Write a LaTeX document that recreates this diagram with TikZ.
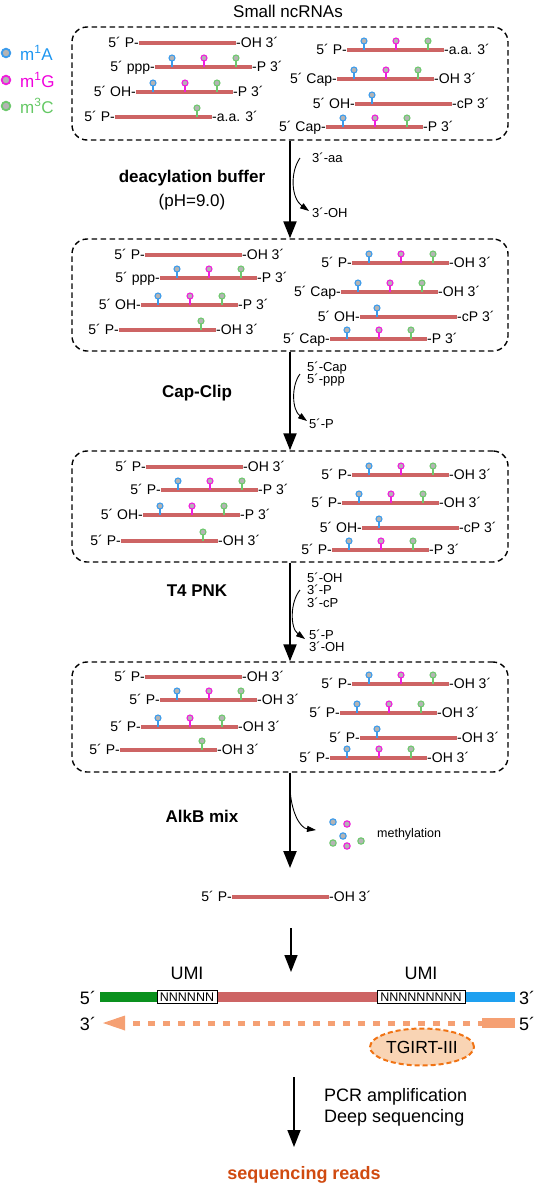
\documentclass[tikz,border=0pt]{standalone}
\usepackage{fontspec}
\setmainfont{Liberation Sans}
\usetikzlibrary{arrows.meta,shapes.geometric}
\definecolor{barc}{RGB}{205,100,100}
\definecolor{cA}{RGB}{60,155,235}
\definecolor{cG}{RGB}{240,30,220}
\definecolor{cC}{RGB}{110,200,110}
\definecolor{pinfill}{RGB}{180,180,180}
\definecolor{tA}{RGB}{30,150,240}
\definecolor{tG}{RGB}{240,0,220}
\definecolor{tC}{RGB}{100,200,100}
\definecolor{umigreen}{RGB}{10,145,30}
\definecolor{umiblue}{RGB}{30,160,240}
\definecolor{orl}{RGB}{245,160,115}
\definecolor{ellfill}{RGB}{249,212,180}
\definecolor{elldraw}{RGB}{240,115,20}
\definecolor{readc}{RGB}{208,74,16}
\newcommand\rnarow[5]{%
  \draw[rnabar] ({#1},{#2}) -- ({#1+97},{#2});
  \node[rnalbl,anchor=base east] at ({#1},{#2+4.5}) {#3};
  \node[rnalbl,anchor=base west] at ({#1+97},{#2+4.5}) {#4};
  \ifx\relax#5\relax\else
  \foreach \o/\c in {#5}{%
    \draw[\c,line width=1.1pt] ({#1+\o},{#2}) -- ({#1+\o},{#2-6});
    \draw[\c,line width=1.1pt,fill=pinfill] ({#1+\o},{#2-9}) circle[radius=3];
  }\fi
}
\begin{document}
\begin{tikzpicture}[x=1pt,y=-1pt,
  rnabar/.style={barc,line width=4.5pt},
  rnalbl/.style={font=\fontsize{14}{16}\selectfont,inner sep=0pt},
  sidelbl/.style={font=\fontsize{13}{15}\selectfont,inner sep=0pt,anchor=base west},
  steplbl/.style={font=\fontsize{17}{20}\selectfont\bfseries,inner sep=0pt},
  dbox/.style={draw,dashed,dash pattern=on 5.5pt off 3.5pt,line width=1.4pt,rounded corners=15pt,minimum width=436pt,inner sep=0pt},
  mainarrow/.style={line width=2.2pt,-{Triangle[length=17pt,width=13pt]}},
  thinarrow/.style={line width=1.5pt,-{Triangle[length=17pt,width=13pt]}},
  sidearrow/.style={line width=0.9pt,-{Triangle[length=9pt,width=6pt]}},
  nbox/.style={draw,fill=white,line width=0.8pt,minimum height=13pt,inner sep=0pt,font=\fontsize{12.5}{13}\selectfont},
]
\useasboundingbox (0,0) rectangle (538,1189);
% title and legend
\node[font=\fontsize{17}{20}\selectfont] (title) at (288,11) {Small ncRNAs};
\foreach \yy/\c/\t/\n [count=\i] in {53/cA/tA/m\textsuperscript{1}A,80/cG/tG/m\textsuperscript{1}G,106/cC/tC/m\textsuperscript{3}C}{
  \draw[\c,line width=1.8pt,fill=pinfill] (6,\yy) circle[radius=4.3];
  \node[font=\fontsize{17}{20}\selectfont,text=\t,anchor=west,inner sep=0pt] (leg\i) at (20,\yy) {\n};
}
% boxes
\node[dbox,minimum height=113pt] (box1) at (290,83.5) {};
\node[dbox,minimum height=112pt] (box2) at (290,295) {};
\node[dbox,minimum height=111pt] (box3) at (290,506.5) {};
\node[dbox,minimum height=110pt] (box4) at (290,717) {};
% box 1
\rnarow{139}{43}{5´ P-}{-OH 3´}{}
\rnarow{155}{67}{5´ ppp-}{-P 3´}{17/cA,49/cG,81/cC}
\rnarow{136}{92}{5´ OH-}{-P 3´}{17/cA,49/cG,81/cC}
\rnarow{115}{117}{5´ P-}{-a.a. 3´}{82/cC}
\rnarow{347}{50}{5´ P-}{-a.a. 3´}{17/cA,49/cG,81/cC}
\rnarow{337}{79}{5´ Cap-}{-OH 3´}{17/cA,49/cG,81/cC}
\rnarow{355}{104}{5´ OH-}{-cP 3´}{17/cA}
\rnarow{326}{127}{5´ Cap-}{-P 3´}{17/cA,49/cG,81/cC}
% box 2
\rnarow{145}{255}{5´ P-}{-OH 3´}{}
\rnarow{160}{278}{5´ ppp-}{-P 3´}{17/cA,49/cG,81/cC}
\rnarow{141}{305}{5´ OH-}{-P 3´}{17/cA,49/cG,81/cC}
\rnarow{119}{330}{5´ P-}{-OH 3´}{82/cC}
\rnarow{352}{263}{5´ P-}{-OH 3´}{17/cA,49/cG,81/cC}
\rnarow{341}{292}{5´ Cap-}{-OH 3´}{17/cA,49/cG,81/cC}
\rnarow{360}{317}{5´ OH-}{-cP 3´}{17/cA}
\rnarow{330}{339}{5´ Cap-}{-P 3´}{17/cA,49/cG,81/cC}
% box 3
\rnarow{146}{467}{5´ P-}{-OH 3´}{}
\rnarow{161}{490}{5´ P-}{-P 3´}{17/cA,49/cG,81/cC}
\rnarow{143}{515}{5´ OH-}{-P 3´}{17/cA,49/cG,81/cC}
\rnarow{121}{541}{5´ P-}{-OH 3´}{82/cC}
\rnarow{352}{475}{5´ P-}{-OH 3´}{17/cA,49/cG,81/cC}
\rnarow{342}{503}{5´ P-}{-OH 3´}{17/cA,49/cG,81/cC}
\rnarow{362}{528}{5´ OH-}{-cP 3´}{17/cA}
\rnarow{332}{550}{5´ P-}{-P 3´}{17/cA,49/cG,81/cC}
% box 4
\rnarow{145}{677}{5´ P-}{-OH 3´}{}
\rnarow{160}{700}{5´ P-}{-OH 3´}{17/cA,49/cG,81/cC}
\rnarow{141}{727}{5´ P-}{-OH 3´}{17/cA,49/cG,81/cC}
\rnarow{120}{750}{5´ P-}{-OH 3´}{82/cC}
\rnarow{352}{684}{5´ P-}{-OH 3´}{17/cA,49/cG,81/cC}
\rnarow{340}{713}{5´ P-}{-OH 3´}{17/cA,49/cG,81/cC}
\rnarow{360}{738}{5´ P-}{-OH 3´}{17/cA}
\rnarow{330}{758}{5´ P-}{-OH 3´}{17/cA,49/cG,81/cC}
% main arrows
\draw[mainarrow] (box1.south) -- (box2.north);
\draw[mainarrow] (box2.south) -- (box3.north);
\draw[mainarrow] (box3.south) -- (box4.north);
\coordinate (a4end) at (290,868);
\draw[mainarrow] (box4.south) -- (a4end);
% step labels
\node[steplbl] (s1) at (192,178) {deacylation buffer};
\node[font=\fontsize{17}{20}\selectfont,inner sep=0pt] (s1b) at (192,202) {(pH=9.0)};
\node[steplbl] (s2) at (197,393) {Cap-Clip};
\node[steplbl] (s3) at (197,591) {T4 PNK};
\node[steplbl] (s4) at (202,816) {AlkB mix};
% side reactions
\node[sidelbl] (t1a) at (312,162) {3´-aa};
\node[sidelbl] (t1b) at (312,217) {3´-OH};
\coordinate (c1s) at (300,158); \coordinate (c1e) at (309,211);
\draw[sidearrow] (c1s) .. controls (290,172) and (291,198) .. (c1e);
\node[sidelbl] (t2a) at (307,371) {5´-Cap};
\node[sidelbl] (t2b) at (307,383) {5´-ppp};
\node[sidelbl] (t2c) at (309,428) {5´-P};
\coordinate (c2s) at (300,374); \coordinate (c2e) at (307,421);
\draw[sidearrow] (c2s) .. controls (291,386) and (292,410) .. (c2e);
\node[sidelbl] (t3a) at (307,582) {5´-OH};
\node[sidelbl] (t3b) at (307,594) {3´-P};
\node[sidelbl] (t3c) at (307,607) {3´-cP};
\coordinate (c3s) at (300,590); \coordinate (c3e) at (305,639);
\draw[sidearrow] (c3s) .. controls (290,602) and (290,628) .. (c3e);
\node[sidelbl] (t3d) at (309,639) {5´-P};
\node[sidelbl] (t3e) at (309,651) {3´-OH};
\coordinate (c4s) at (290,788); \coordinate (c4e) at (316,830);
\draw[sidearrow] (c4s) .. controls (291,812) and (300,828) .. (c4e);
\foreach \xx/\yy/\c [count=\i] in {333/822/cA,347/824/cG,343/836/cA,333/843/cC,347/846/cG,361/841/cC}{
  \draw[\c,line width=1.1pt,fill=pinfill] (\xx,\yy) circle[radius=3.2];
}
\node[font=\fontsize{12.5}{14}\selectfont,anchor=west,inner sep=0pt] (meth) at (377,834) {methylation};
% single RNA
\rnarow{232}{897}{5´ P-}{-OH 3´}{}
\coordinate (a5s) at (291,928); \coordinate (a5e) at (291,972);
\draw[thinarrow] (a5s) -- (a5e);
% UMI construct
\node[font=\fontsize{18}{20}\selectfont,inner sep=0pt] (u5) at (88,998) {5´};
\node[font=\fontsize{18}{20}\selectfont,inner sep=0pt] (u3) at (527,998) {3´};
\draw[umigreen,line width=10pt] (100,997) -- (157,997);
\draw[barc,line width=10pt] (217,997) -- (377,997);
\draw[umiblue,line width=10pt] (465,997) -- (515,997);
\node[nbox,minimum width=60pt] (n1) at (187,997) {NNNNNN};
\node[nbox,minimum width=88pt] (n2) at (421,997) {NNNNNNNNN};
\node[font=\fontsize{18}{20}\selectfont,inner sep=0pt] (umi1) at (187,973) {UMI};
\node[font=\fontsize{18}{20}\selectfont,inner sep=0pt] (umi2) at (421,973) {UMI};
% cDNA strand
\node[font=\fontsize{18}{20}\selectfont,inner sep=0pt] (d3) at (88,1024) {3´};
\node[font=\fontsize{18}{20}\selectfont,inner sep=0pt] (d5) at (527,1024) {5´};
\draw[orl,line width=5pt,dash pattern=on 7pt off 8pt] (133,1023) -- (482,1023);
\fill[orl] (103,1023) -- (125,1015.5) -- (125,1030.5) -- cycle;
\draw[orl,line width=10pt] (482,1023) -- (515,1023);
\node[ellipse,draw=elldraw,fill=ellfill,line width=2pt,dash pattern=on 5pt off 3pt,minimum width=104pt,minimum height=37pt,inner sep=0pt,font=\fontsize{17.5}{20}\selectfont] (tgirt) at (422,1047) {TGIRT-III};
% PCR
\coordinate (a6s) at (294,1077); \coordinate (a6e) at (294,1147);
\draw[thinarrow] (a6s) -- (a6e);
\node[font=\fontsize{18}{20}\selectfont,anchor=west,inner sep=0pt] (pcr1) at (324,1097) {PCR amplification};
\node[font=\fontsize{18}{20}\selectfont,anchor=west,inner sep=0pt] (pcr2) at (324,1118) {Deep sequencing};
\node[font=\fontsize{18}{20}\selectfont\bfseries,text=readc,inner sep=0pt] (reads) at (304,1175) {sequencing reads};
\end{tikzpicture}
\end{document}
